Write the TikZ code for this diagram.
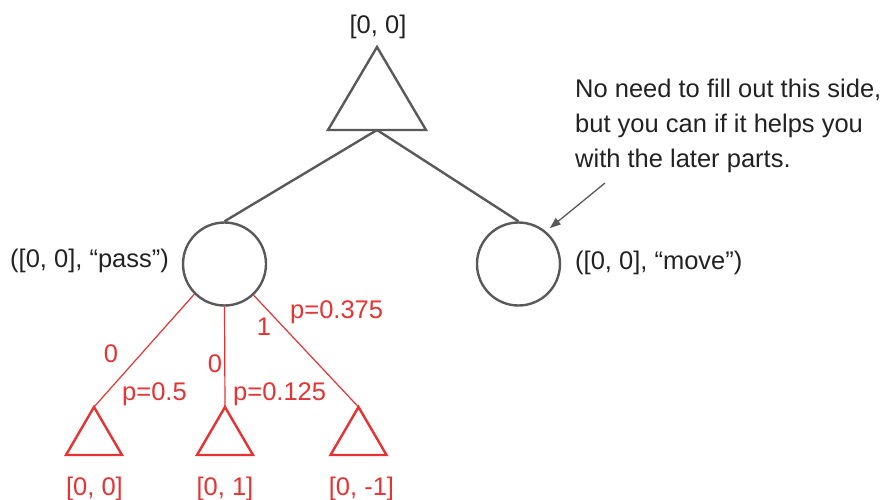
\documentclass[tikz,border=0pt]{standalone}
\usepackage{fontspec}
\setmainfont{Liberation Sans}
\usetikzlibrary{arrows.meta}
\definecolor{ink}{RGB}{34,34,34}
\definecolor{edgec}{RGB}{89,89,89}
\definecolor{redc}{RGB}{230,50,50}
\begin{document}
\begin{tikzpicture}[x=1pt,y=-1pt,
  lbl/.style={inner sep=0pt, font=\fontsize{25.5}{35}\selectfont, text=ink},
  rlbl/.style={lbl, text=redc},
  greyline/.style={draw=edgec, line width=2.4pt},
  chance/.style={greyline, circle, minimum size=83pt, inner sep=0pt},
  redline/.style={draw=redc, line width=1.2pt},
  redtri/.style={draw=redc, line width=2.4pt, line join=miter},
  notearrow/.style={draw=edgec, line width=1.3pt, -{Triangle[length=11pt,width=8pt]}, shorten >=5pt}]
\useasboundingbox (0,0) rectangle (886,499);

% root max node (triangle)
\coordinate (top) at (377,47);
\coordinate (topL) at (328,130);
\coordinate (topR) at (426,130);
\coordinate (topB) at (377,130);
\draw[greyline, line join=miter] (top) -- (topL) -- (topR) -- cycle;
\node[lbl, anchor=base] (rootlbl) at (378,33) {[0, 0]};

% chance nodes
\node[chance] (pass) at (224.5,264) {};
\node[chance] (move) at (518.5,264) {};
\draw[greyline] (topB) -- (pass.north);
\draw[greyline] (topB) -- (move.north);
\node[lbl, anchor=base west] (passlbl) at (10,267) {([0, 0], “pass”)};
\node[lbl, anchor=base west] (movelbl) at (575,269) {([0, 0], “move”)};

% note
\node[lbl, anchor=base west] (note1) at (575,97) {No need to fill out this side,};
\node[lbl, anchor=base west] (note2) at (575,132) {but you can if it helps you};
\node[lbl, anchor=base west] (note3) at (575,167) {with the later parts.};
\coordinate (arrS) at (605,183);
\draw[notearrow] (arrS) -- (move.50);

% leaf triangles
\coordinate (a1) at (94,407);
\coordinate (a2) at (225,407);
\coordinate (a3) at (358.5,407);
\draw[redtri] (a1) -- (66,455) -- (122,455) -- cycle;
\draw[redtri] (a2) -- (197,455) -- (253,455) -- cycle;
\draw[redtri] (a3) -- (330.5,455) -- (386.5,455) -- cycle;

\draw[redline] (pass.225) -- (a1);
\draw[redline] (pass.south) -- (a2);
\draw[redline] (pass.-47) -- (a3);

% red labels
\node[rlbl, anchor=base] (r0a) at (111,362) {0};
\node[rlbl, anchor=base west] (p1) at (122,400) {p=0.5};
\node[rlbl, anchor=base] (r0b) at (215,372) {0};
\node[rlbl, anchor=base west] (p2) at (233,400) {p=0.125};
\node[rlbl, anchor=base] (r1) at (264,335) {1};
\node[rlbl, anchor=base west] (p3) at (290,318) {p=0.375};

\node[rlbl, anchor=base] (v1) at (94.5,495) {[0, 0]};
\node[rlbl, anchor=base] (v2) at (225,495) {[0, 1]};
\node[rlbl, anchor=base] (v3) at (361.5,495) {[0, -1]};
\end{tikzpicture}
\end{document}
